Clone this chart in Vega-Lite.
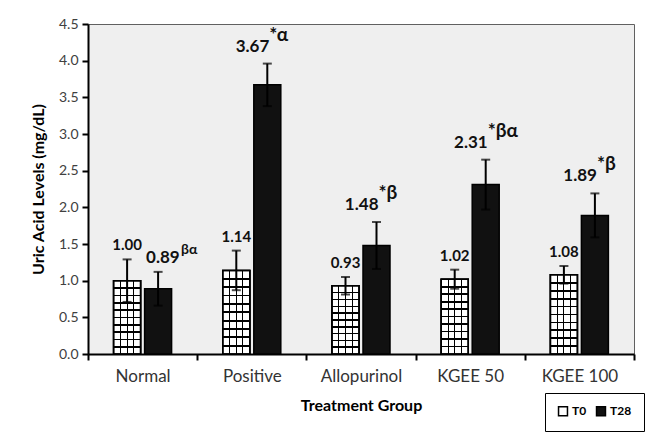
{
  "$schema": "https://vega.github.io/schema/vega-lite/v6.json",
  "width": 546,
  "height": 330,
  "autosize": {"type": "none"},
  "padding": {"left": 88, "top": 24, "right": 14, "bottom": 78},
  "background": "white",
  "config": {
    "font": "Lato",
    "view": {"fill": "#efefef", "stroke": "#606060", "strokeWidth": 1},
    "axisY": {
      "tickCount": 10, "format": ".1f", "labelOverlap": false, "grid": false,
      "labelFontSize": 14, "labelColor": "#404040", "labelPadding": 4,
      "domainColor": "#000", "domainWidth": 2,
      "tickColor": "#000", "tickWidth": 2, "tickSize": 6,
      "titleFontSize": 16, "titleFontWeight": "bold", "titleColor": "#000", "titlePadding": 12
    }
  },
  "data": {
    "values": [
      {"group": "Normal", "time": "T0", "mean": 1.00, "sd": 0.29, "label": "1.00", "sup": ""},
      {"group": "Normal", "time": "T28", "mean": 0.89, "sd": 0.23, "label": "0.89", "sup": "βα"},
      {"group": "Positive", "time": "T0", "mean": 1.14, "sd": 0.27, "label": "1.14", "sup": ""},
      {"group": "Positive", "time": "T28", "mean": 3.67, "sd": 0.29, "label": "3.67", "sup": "*α"},
      {"group": "Allopurinol", "time": "T0", "mean": 0.93, "sd": 0.12, "label": "0.93", "sup": ""},
      {"group": "Allopurinol", "time": "T28", "mean": 1.48, "sd": 0.32, "label": "1.48", "sup": "*β"},
      {"group": "KGEE 50", "time": "T0", "mean": 1.02, "sd": 0.13, "label": "1.02", "sup": ""},
      {"group": "KGEE 50", "time": "T28", "mean": 2.31, "sd": 0.34, "label": "2.31", "sup": "*βα"},
      {"group": "KGEE 100", "time": "T0", "mean": 1.08, "sd": 0.12, "label": "1.08", "sup": ""},
      {"group": "KGEE 100", "time": "T28", "mean": 1.89, "sd": 0.30, "label": "1.89", "sup": "*β"}
    ]
  },
  "transform": [
    {"calculate": "datum.mean + datum.sd", "as": "hi"},
    {"calculate": "datum.mean - datum.sd", "as": "lo"}
  ],
  "encoding": {
    "x": {
      "field": "group", "type": "nominal",
      "sort": ["Normal", "Positive", "Allopurinol", "KGEE 50", "KGEE 100"],
      "scale": {"paddingInner": 0, "paddingOuter": 0},
      "axis": {
        "title": "Treatment Group",
        "titleFontSize": 16, "titleFontWeight": "bold", "titleColor": "#000",
        "titlePadding": 13,
        "labelAngle": 0, "labelFontSize": 17, "labelColor": "#333", "labelPadding": 8,
        "domainColor": "#000", "domainWidth": 2,
        "tickColor": "#000", "tickWidth": 2, "tickSize": 6, "tickBand": "extent"
      }
    },
    "xOffset": {
      "field": "time", "type": "nominal",
      "scale": {"paddingInner": 0.129, "paddingOuter": 0.826}
    }
  },
  "layer": [
    {
      "mark": {"type": "bar", "stroke": "#000", "strokeWidth": 1.5},
      "encoding": {
        "y": {
          "field": "mean", "type": "quantitative",
          "scale": {"domain": [0, 4.5], "nice": false},
          "axis": {"title": "Uric Acid Levels (mg/dL)", "tickCount": 10, "labelOverlap": false}
        },
        "fill": {
          "field": "time", "type": "nominal",
          "scale": {"domain": ["T0", "T28"], "range": ["#ffffff", "#111111"]},
          "legend": {
            "title": null,
            "orient": "none", "legendX": 457, "legendY": 369,
            "direction": "horizontal",
            "fillColor": "#fff", "strokeColor": "#000", "padding": 12,
            "symbolType": "square", "symbolSize": 80, "symbolStrokeColor": "#000", "symbolStrokeWidth": 1.5,
            "labelFontSize": 12, "labelFontWeight": "bold", "labelColor": "#000",
            "columnPadding": 6, "labelOffset": 3
          }
        }
      }
    },
    {
      "transform": [{"filter": "datum.time == 'T0'"}],
      "mark": {
        "type": "bar", "stroke": "#000", "strokeWidth": 1.5,
        "fill": {"gradient": "linear", "x1": 0, "y1": 0, "x2": 1, "y2": 0, "stops": [
          {"offset": 0, "color": "#ffffff"}, {"offset": 0.235, "color": "#ffffff"},
          {"offset": 0.235, "color": "#000000"}, {"offset": 0.275, "color": "#000000"},
          {"offset": 0.275, "color": "#ffffff"}, {"offset": 0.48, "color": "#ffffff"},
          {"offset": 0.48, "color": "#000000"}, {"offset": 0.52, "color": "#000000"},
          {"offset": 0.52, "color": "#ffffff"}, {"offset": 0.725, "color": "#ffffff"},
          {"offset": 0.725, "color": "#000000"}, {"offset": 0.765, "color": "#000000"},
          {"offset": 0.765, "color": "#ffffff"}, {"offset": 1, "color": "#ffffff"}
        ]}
      },
      "encoding": {"y": {"field": "mean", "type": "quantitative"}}
    },
    {
      "transform": [{"filter": "datum.time == 'T0'"}],
      "mark": {
        "type": "bar", "stroke": "#000", "strokeWidth": 1.5,
        "fill": {"gradient": "linear", "x1": 0, "y1": 0, "x2": 0, "y2": 1, "stops": [
          {"offset": 0, "color": "transparent"}, {"offset": 0.09, "color": "transparent"},
          {"offset": 0.09, "color": "#000"}, {"offset": 0.112, "color": "#000"},
          {"offset": 0.112, "color": "transparent"}, {"offset": 0.19, "color": "transparent"},
          {"offset": 0.19, "color": "#000"}, {"offset": 0.212, "color": "#000"},
          {"offset": 0.212, "color": "transparent"}, {"offset": 0.29, "color": "transparent"},
          {"offset": 0.29, "color": "#000"}, {"offset": 0.312, "color": "#000"},
          {"offset": 0.312, "color": "transparent"}, {"offset": 0.39, "color": "transparent"},
          {"offset": 0.39, "color": "#000"}, {"offset": 0.412, "color": "#000"},
          {"offset": 0.412, "color": "transparent"}, {"offset": 0.49, "color": "transparent"},
          {"offset": 0.49, "color": "#000"}, {"offset": 0.512, "color": "#000"},
          {"offset": 0.512, "color": "transparent"}, {"offset": 0.59, "color": "transparent"},
          {"offset": 0.59, "color": "#000"}, {"offset": 0.612, "color": "#000"},
          {"offset": 0.612, "color": "transparent"}, {"offset": 0.69, "color": "transparent"},
          {"offset": 0.69, "color": "#000"}, {"offset": 0.712, "color": "#000"},
          {"offset": 0.712, "color": "transparent"}, {"offset": 0.79, "color": "transparent"},
          {"offset": 0.79, "color": "#000"}, {"offset": 0.812, "color": "#000"},
          {"offset": 0.812, "color": "transparent"}, {"offset": 0.89, "color": "transparent"},
          {"offset": 0.89, "color": "#000"}, {"offset": 0.912, "color": "#000"},
          {"offset": 0.912, "color": "transparent"}, {"offset": 1, "color": "transparent"}
        ]}
      },
      "encoding": {"y": {"field": "mean", "type": "quantitative"}}
    },
    {
      "mark": {"type": "rule", "color": "#000", "strokeWidth": 2},
      "encoding": {
        "y": {"field": "lo", "type": "quantitative"},
        "y2": {"field": "hi"}
      }
    },
    {
      "mark": {"type": "tick", "color": "#000", "thickness": 2, "size": 9},
      "encoding": {"y": {"field": "hi", "type": "quantitative"}}
    },
    {
      "mark": {"type": "tick", "color": "#000", "thickness": 2, "size": 9},
      "encoding": {"y": {"field": "lo", "type": "quantitative"}}
    },
    {
      "transform": [{"filter": "datum.time == 'T0'"}],
      "mark": {"type": "text", "fontSize": 15, "fontWeight": "bold", "color": "#111", "baseline": "alphabetic", "dy": -9},
      "encoding": {
        "y": {"field": "hi", "type": "quantitative"},
        "text": {"field": "label"}
      }
    },
    {
      "transform": [{"filter": "datum.time == 'T28' && datum.sup != 'βα'"}],
      "mark": {"type": "text", "fontSize": 17, "fontWeight": "bold", "color": "#111", "baseline": "alphabetic", "align": "right", "dx": 2, "dy": -12},
      "encoding": {
        "y": {"field": "hi", "type": "quantitative"},
        "text": {"field": "label"}
      }
    },
    {
      "transform": [{"filter": "datum.time == 'T28' && datum.sup != 'βα'"}],
      "mark": {"type": "text", "fontSize": 19, "fontWeight": "bold", "color": "#111", "baseline": "alphabetic", "align": "left", "dx": 2, "dy": -23},
      "encoding": {
        "y": {"field": "hi", "type": "quantitative"},
        "text": {"field": "sup"}
      }
    },
    {
      "transform": [{"filter": "datum.sup == 'βα'"}],
      "mark": {"type": "text", "fontSize": 17, "fontWeight": "bold", "color": "#111", "baseline": "alphabetic", "align": "left", "dx": -12, "dy": -9},
      "encoding": {
        "y": {"field": "hi", "type": "quantitative"},
        "text": {"field": "label"}
      }
    },
    {
      "transform": [{"filter": "datum.sup == 'βα'"}],
      "mark": {"type": "text", "fontSize": 14, "fontWeight": "bold", "color": "#111", "baseline": "alphabetic", "align": "left", "dx": 23, "dy": -18},
      "encoding": {
        "y": {"field": "hi", "type": "quantitative"},
        "text": {"field": "sup"}
      }
    }
  ]
}
